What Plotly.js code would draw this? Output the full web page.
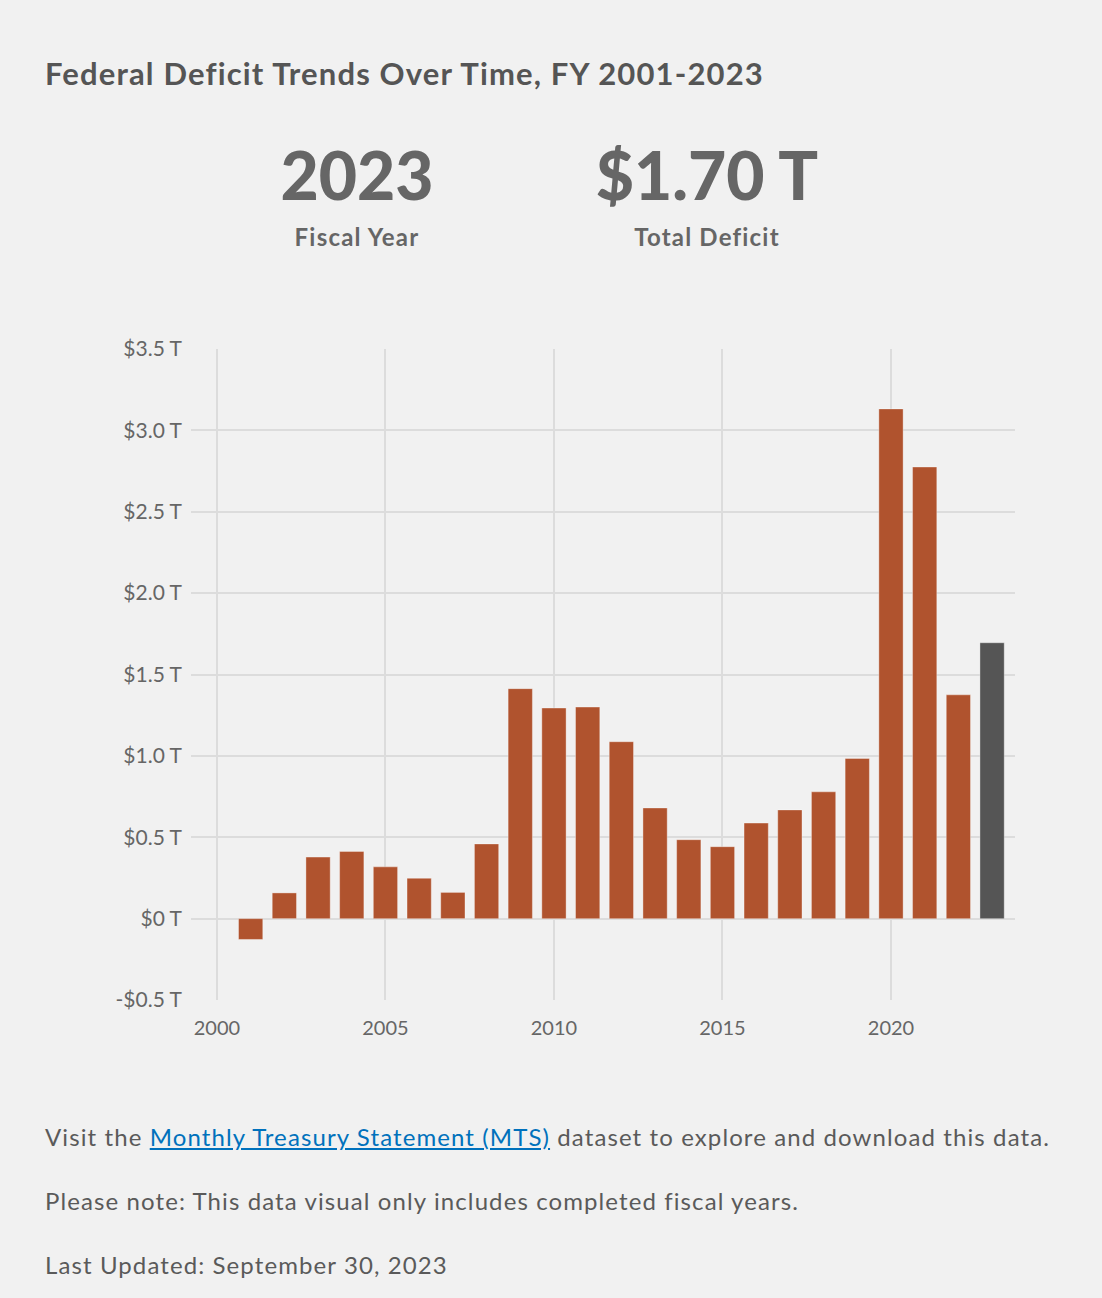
<!DOCTYPE html>
<html>
<head>
<meta charset="utf-8">
<script src="https://cdn.plot.ly/plotly-3.0.1.min.js"></script>
<style>
  html, body { margin:0; padding:0; background:#f1f1f1; width:1102px; height:1298px; overflow:hidden; font-family: Lato, "Open Sans", sans-serif; }
  #chart { position:absolute; left:0; top:0; width:1102px; height:1298px; }
  .txt { position:absolute; color:#555; white-space:nowrap; }
  #title { left:45px; top:54px; font-size:31px; font-weight:700; color:#555; letter-spacing:1.15px; }
  .big { font-size:66px; font-weight:900; color:#666; text-align:center; width:400px; }
  .lbl { font-size:24px; font-weight:700; color:#666; text-align:center; width:400px; letter-spacing:1.2px; }
  .foot { left:45px; font-size:24px; color:#5a5a5a; letter-spacing:1.1px; }
  a { color:#0071bc; text-decoration:underline; }
</style>
</head>
<body>
<div id="chart"></div>
<div class="txt" id="title"></div>
<div class="txt big" id="bigYear" style="left:157px; top:135px;"></div>
<div class="txt lbl" id="lblYear" style="left:157px; top:222px;"></div>
<div class="txt big" id="bigVal" style="left:507px; top:135px;"></div>
<div class="txt lbl" id="lblVal" style="left:507px; top:222px;"></div>
<div class="txt foot" style="top:1122px;">Visit the <a href="#">Monthly Treasury Statement (MTS)</a> dataset to explore and download this data.</div>
<div class="txt foot" style="top:1186px;">Please note: This data visual only includes completed fiscal years.</div>
<div class="txt foot" style="top:1250px;">Last Updated: September 30, 2023</div>
<script>
const chartTitle = "Federal Deficit Trends Over Time, FY 2001-2023";
const fiscalYears = [2001,2002,2003,2004,2005,2006,2007,2008,2009,2010,2011,2012,2013,2014,2015,2016,2017,2018,2019,2020,2021,2022,2023];
const deficitTrillions = [-0.128,0.158,0.378,0.413,0.318,0.248,0.161,0.459,1.413,1.294,1.300,1.087,0.680,0.485,0.442,0.587,0.668,0.779,0.984,3.132,2.775,1.375,1.695];
const highlightYear = 2023;
const highlightValue = "$1.70 T";
const yTickVals = [-0.5,0,0.5,1.0,1.5,2.0,2.5,3.0,3.5];
const yTickText = ["-$0.5 T","$0 T","$0.5 T","$1.0 T","$1.5 T","$2.0 T","$2.5 T","$3.0 T","$3.5 T"];
const xTickVals = [2000,2005,2010,2015,2020];

document.getElementById('title').textContent = chartTitle;
document.getElementById('bigYear').textContent = String(highlightYear);
document.getElementById('lblYear').textContent = "Fiscal Year";
document.getElementById('bigVal').textContent = highlightValue;
document.getElementById('lblVal').textContent = "Total Deficit";

const colors = fiscalYears.map(y => y === highlightYear ? '#555555' : '#b0532e');

const trace = {
  type: 'bar',
  x: fiscalYears,
  y: deficitTrillions,
  width: 0.72,
  marker: { color: colors, line: { color: 'rgba(255,255,255,0.35)', width: 1 } },
  hoverinfo: 'skip'
};

const layout = {
  width: 1102, height: 1298,
  paper_bgcolor: '#f1f1f1', plot_bgcolor: '#f1f1f1',
  margin: { l: 191, r: 87, t: 349, b: 298 },
  showlegend: false,
  font: { family: 'Lato, sans-serif', color: '#666' },
  xaxis: {
    range: [1999.23, 2023.68],
    tickvals: xTickVals,
    ticktext: xTickVals.map(String),
    showgrid: true, gridcolor: '#dcdcdc', gridwidth: 2,
    zeroline: false, showline: false, ticks: '',
    tickfont: { family: 'Lato, sans-serif', size: 20, color: '#666' },
    ticklabelstandoff: 14,
    fixedrange: true
  },
  yaxis: {
    range: [-0.5, 3.5],
    tickvals: yTickVals,
    ticktext: yTickText,
    showgrid: true, gridcolor: '#dcdcdc', gridwidth: 2,
    zeroline: false, showline: false, ticks: '',
    tickfont: { family: 'Lato, sans-serif', size: 21, color: '#666' },
    ticklabelstandoff: 8,
    fixedrange: true
  }
};

Plotly.newPlot('chart', [trace], layout, { displayModeBar: false, staticPlot: true });
</script>
</body>
</html>
